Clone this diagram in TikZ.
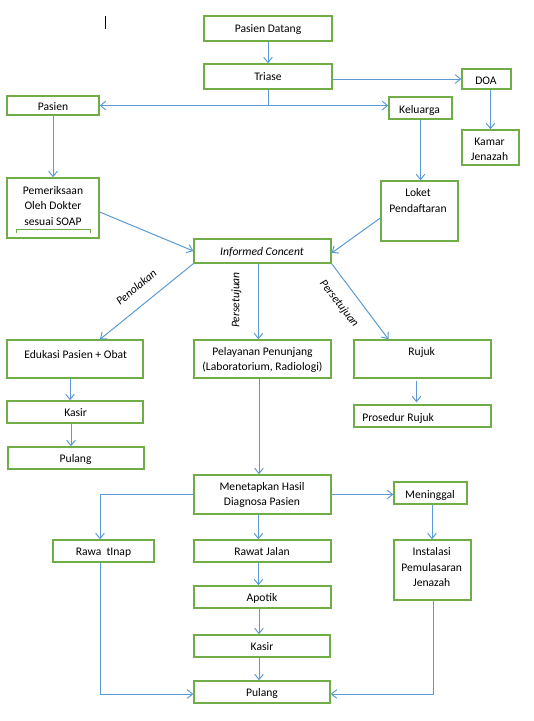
\documentclass[tikz,border=0pt]{standalone}
\usepackage{fontspec}
\setmainfont{Carlito}
\usetikzlibrary{arrows.meta,fit,calc}
\definecolor{gr}{HTML}{70AD47}
\definecolor{bl}{HTML}{5B9BD5}
\begin{document}
\begin{tikzpicture}[x=0.75pt,y=-0.75pt,
  box/.style={draw=gr,line width=1pt,inner sep=0pt},
  txt/.style={inner sep=0pt,text height=0.8em,text depth=0.16em,font=\fontsize{8.7}{10}\selectfont},
  itxt/.style={txt,font=\fontsize{8.7}{10}\selectfont\itshape},
  ln/.style={draw=bl,line width=0.75pt},
  arr/.style={ln,-{Straight Barb[length=4pt,width=6.5pt]}}]
\useasboundingbox (0,0) rectangle (533,721);
\draw[line width=0.5pt] (105,16) -- (105,29);
% boxes
\node[box,fit={(204,16)(332,41)}] (pd) {};
\node[box,fit={(204,64)(332,89)}] (tri) {};
\node[box,fit={(462,69)(511,89)}] (doa) {};
\node[box,fit={(7,96)(99,115)}] (pas) {};
\node[box,fit={(389,97)(452,119)}] (kel) {};
\node[box,fit={(462,130)(519,165)}] (kam) {};
\node[box,fit={(7,178)(99,238)}] (pem) {};
\node[box,fit={(381,181)(458,241)}] (lok) {};
\node[box,fit={(194,239)(331,263)}] (inf) {};
\node[box,fit={(7,340)(143,378)}] (edu) {};
\node[box,fit={(194,340)(331,378)}] (pel) {};
\node[box,fit={(354,340)(491,378)}] (ruj) {};
\node[box,fit={(7,401)(143,423)}] (kas1) {};
\node[box,fit={(8,447)(144,469)}] (pul1) {};
\node[box,fit={(354,405)(491,427)}] (pro) {};
\node[box,fit={(194,475)(331,514)}] (men) {};
\node[box,fit={(394,482)(467,504)}] (mng) {};
\node[box,fit={(53,540)(154,562)}] (raw) {};
\node[box,fit={(194,540)(331,562)}] (rj) {};
\node[box,fit={(394,540)(471,600)}] (ins) {};
\node[box,fit={(194,586)(331,608)}] (apo) {};
\node[box,fit={(194,635)(330,657)}] (kas2) {};
\node[box,fit={(194,681)(330,703)}] (pul2) {};
\draw[gr,line width=0.7pt] (16,233) -- (16,229.5) -- (90,229.5) -- (90,233);
% texts
\node[txt] (t-pd) at (268,28.5) {Pasien Datang};
\node[txt] (t-tri) at (268,76.5) {Triase};
\node[txt] (t-doa) at (486,80) {DOA};
\node[txt] (t-pas) at (53,106) {Pasien};
\node[txt] (t-kel) at (419.5,109) {Keluarga};
\node[txt] (t-kam1) at (489.5,141) {Kamar};
\node[txt] (t-kam2) at (489.5,156.5) {Jenazah};
\node[txt] (t-pem1) at (53,190) {Pemeriksaan};
\node[txt] (t-pem2) at (53,205.5) {Oleh Dokter};
\node[txt] (t-pem3) at (53,221) {sesuai SOAP};
\node[txt] (t-lok1) at (418,192) {Loket};
\node[txt] (t-lok2) at (418,208) {Pendaftaran};
\node[itxt] (t-inf) at (262,251) {Informed Concent};
\node[txt] (t-edu) at (75.7,354) {Edukasi Pasien + Obat};
\node[txt] (t-pel1) at (262.5,351) {Pelayanan Penunjang};
\node[txt] (t-pel2) at (262.5,366.7) {(Laboratorium, Radiologi)};
\node[txt] (t-ruj) at (421.7,351) {Rujuk};
\node[txt] (t-kas1) at (75.6,412.7) {Kasir};
\node[txt] (t-pul1) at (75.6,458) {Pulang};
\node[txt,anchor=west] (t-pro) at (362,417) {Prosedur Rujuk};
\node[txt] (t-men1) at (262,486) {Menetapkan Hasil};
\node[txt] (t-men2) at (262,501.7) {Diagnosa Pasien};
\node[txt] (t-mng) at (430,494) {Meninggal};
\node[txt] (t-raw) at (103.5,551) {Rawa\ \ tInap};
\node[txt] (t-rj) at (262,551) {Rawat Jalan};
\node[txt] (t-ins1) at (431.7,551) {Instalasi};
\node[txt] (t-ins2) at (431.7,567) {Pemulasaran};
\node[txt] (t-ins3) at (431.7,582) {Jenazah};
\node[txt] (t-apo) at (262,597) {Apotik};
\node[txt] (t-kas2) at (262,646.7) {Kasir};
\node[txt] (t-pul2) at (262,692.7) {Pulang};
% edge labels
\node[itxt,rotate=40] (l-pen) at (136,287) {Penolakan};
\node[itxt,rotate=90] (l-per1) at (235,300) {Persetujuan};
\node[itxt,rotate=-52] (l-per2) at (340,303) {Persetujuan};
% connectors
\draw[arr] (pd.south) -- (tri.north);
\draw[arr] (tri.east |- doa.west) -- (doa.west);
\coordinate (sp) at (tri.south |- pas.east);
\draw[ln] (tri.south) -- (sp);
\draw[arr] (sp) -- (pas.east);
\draw[arr] (sp) -- (kel.west |- sp);
\draw[arr] (pas.south) -- (pem.north);
\draw[arr] (kel.south) -- (kel.south |- lok.north);
\draw[arr] (doa.south -| kam.north) -- (kam.north);
\draw[arr] ($(pem.east)+(0,4)$) -- (inf.west);
\draw[arr] ($(lok.west)+(0,7)$) -- ($(inf.east)+(0,2)$);
\draw[arr] (inf.south west) -- ($(edu.north)+(25,0)$);
\draw[arr] ($(inf.south)+(-4,0)$) -- ($(pel.north)+(-4,0)$);
\draw[arr] (inf.south east) -- ($(ruj.north)+(-34,0)$);
\draw[arr] ($(edu.south)+(-5,0)$) -- ($(kas1.north)+(-5,0)$);
\draw[arr] ($(kas1.south)+(-4,0)$) -- ($(pul1.north)+(-5,0)$);
\draw[arr] ($(ruj.south)+(-6,2)$) -- ($(pro.north)+(-6,-2)$);
\draw[arr] ($(pel.south)+(-3.5,0)$) -- ($(men.north)+(-3.5,0)$);
\draw[arr] (men.east) -- (mng.west |- men.east);
\draw[arr] (men.west) -| ($(raw.north)+(-3.5,0)$);
\draw[arr] ($(men.south)+(-4,0)$) -- ($(rj.north)+(-4,0)$);
\draw[arr] ($(ins.north |- mng.south)+(-0.5,0)$) -- ($(ins.north)+(-0.5,0)$);
\draw[arr] ($(rj.south)+(-4,0)$) -- ($(apo.north)+(-4,0)$);
\draw[arr] ($(apo.south)+(-3.5,0)$) -- ($(kas2.north)+(-3,0)$);
\draw[arr] ($(kas2.south)+(-3,0)$) -- ($(pul2.north)+(-3,0)$);
\draw[arr] ($(raw.south)+(-3.5,0)$) |- ($(pul2.west)+(0,2)$);
\draw[arr] ($(ins.south)+(0.5,0)$) |- ($(pul2.east)+(0,2)$);
\end{tikzpicture}
\end{document}
